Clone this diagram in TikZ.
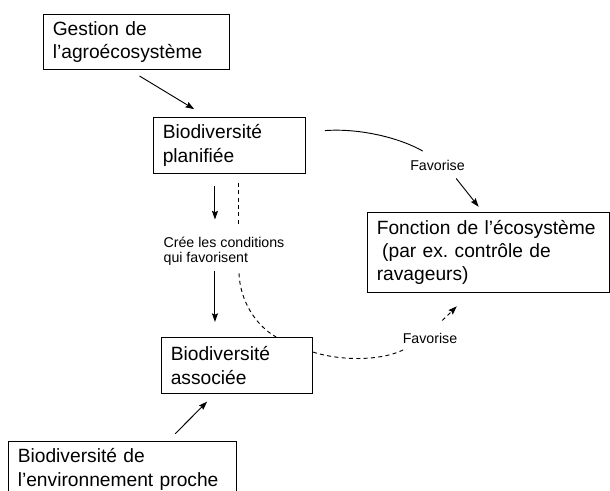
\documentclass[tikz,border=0pt]{standalone}
\usepackage{fontspec}
\setmainfont{Liberation Sans}
\usetikzlibrary{arrows.meta}
\frenchspacing
\tikzset{
  boite/.style={draw, line width=0.7pt, anchor=north west, align=left, inner xsep=7pt, inner ysep=0pt, font=\fontsize{14.4}{17.5}\selectfont},
  etiq/.style={inner sep=0pt, align=left, font=\fontsize{10.65}{11.25}\selectfont},
  trait/.style={line width=0.7pt},
  fleche/.style={line width=0.7pt, -{Stealth[length=6.5pt,width=4.5pt,inset=1pt]}},
  tirets/.style={line width=0.7pt, dash pattern=on 3pt off 2.5pt},
}
\begin{document}
\begin{tikzpicture}[x=0.75pt,y=0.75pt,yscale=-1,xscale=1]
\useasboundingbox (0,0) rectangle (610,490);
% boites
\node[boite, text width=125.5pt, minimum height=41.25pt] (gestion) at (43,14) {Gestion de\\l’agroécosystème};
\node[boite, text width=100pt, minimum height=42pt] (planif) at (153,117) {Biodiversité\\planifiée};
\node[boite, text width=167.5pt, minimum height=60pt] (fonction) at (367,212) {Fonction de l’écosystème\\\hspace*{0.28em}(par ex. contrôle de\\ravageurs)};
\node[boite, text width=99.25pt, minimum height=42pt] (assoc) at (161,337) {Biodiversité\\associée};
\node[boite, text width=157pt, minimum height=42pt] (voisin) at (8,441) {Biodiversité de\\l’environnement proche};
% etiquettes
\node[etiq] (cree) at (224,251) {Crée les conditions\\qui favorisent};
\node[etiq] (fav1) at (437.5,165) {Favorise};
\node[etiq] (fav2) at (430,338) {Favorise};
% liens
\draw[fleche, shorten <=8.8pt, shorten >=11.4pt] (gestion.256) -- (planif.128);
\draw[trait, shorten <=14.25pt, shorten >=12.75pt] (planif.10) .. controls (360,128) and (400,138) .. (fav1.north);
\draw[fleche, shorten <=7.6pt, shorten >=5pt] (fav1.336) -- (fonction.98);
\draw[fleche, shorten <=9pt, shorten >=12.75pt] (planif.243) -- (planif.243 |- cree.north);
\draw[fleche, shorten <=4.5pt, shorten >=11.25pt] (planif.243 |- cree.south) -- (planif.243 |- assoc.north);
\draw[tirets, shorten <=6.75pt, shorten >=8.25pt] (planif.288) -- (planif.288 |- cree.north);
\draw[tirets, shorten <=6pt] (planif.288 |- cree.south) .. controls (240,300) and (255,325) .. (assoc.36);
\draw[tirets, shorten >=8.5pt] (assoc.10) .. controls (345,362) and (385,360) .. (fav2.200);
\draw[fleche, tirets, shorten <=12.9pt, shorten >=14.3pt] (fav2.north) -- (fonction.246);
\draw[fleche, shorten <=7.6pt, shorten >=8.1pt] (voisin.32) -- (assoc.232);
\end{tikzpicture}
\end{document}
